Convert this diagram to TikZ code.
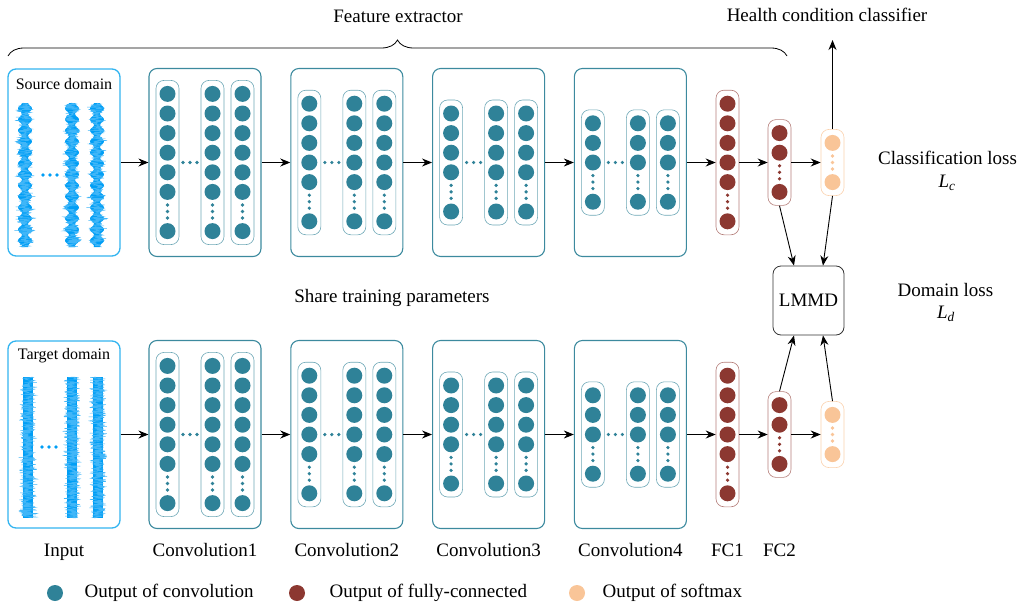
\documentclass[tikz,border=0pt]{standalone}
\usepackage{fontspec}
\setmainfont{Liberation Serif}
\usetikzlibrary{arrows.meta,positioning,decorations.pathreplacing}

\definecolor{tealc}{RGB}{47,130,152}
\definecolor{tealb}{RGB}{60,138,158}
\definecolor{redc}{RGB}{140,56,49}
\definecolor{peachc}{RGB}{249,197,152}
\definecolor{wavec}{RGB}{0,158,245}
\definecolor{inputc}{RGB}{50,180,240}

\newcommand{\colsp}{19.6}
% one column of neurons: name, x, y, number of top neurons, kind
\newcommand{\neurcol}[5]{%
  \pgfmathsetmacro{\colx}{#2}
  \pgfmathsetmacro{\colhalf}{(#4+1)*\colsp/2}
  \pgfmathsetmacro{\colht}{(#4+1)*\colsp+27}
  \node[#5col, minimum height=\colht pt] (#1) at (\colx,#3) {};
  \foreach \k in {1,...,#4}
    \node[#5n] (#1-\k) at (\colx,{#3-\colhalf+(\k-1)*\colsp}) {};
  \node[#5n] (#1-last) at (\colx,{#3+\colhalf}) {};
  \foreach \d in {-6.5,0,6.5}
    \fill[#5dot] (\colx,{#3+\colhalf-\colsp+\d}) circle (1.8pt);
}
% convolution layer: name, x, y, number of top neurons
\newcommand{\convlayer}[4]{%
  \pgfmathsetmacro{\layx}{#2}
  \node[layerbox] (#1) at (\layx,#3) {};
  \neurcol{#1-a}{\layx-37.5}{#3}{#4}{conv}
  \neurcol{#1-b}{\layx+7.5}{#3}{#4}{conv}
  \neurcol{#1-c}{\layx+37.5}{#3}{#4}{conv}
  \foreach \d in {-7,0,7}
    \fill[convdot] ({\layx-15+\d},#3) circle (1.8pt);
}
% vibration signals (x, top, bottom)
\newcommand{\srcwave}[3]{%
  \fill[wavec] plot[domain=#2:#3, samples=160, variable=\t]
    ({#1+3+4*(sin(16.36*(\t-#2)))^2}, \t)
    -- plot[domain=#3:#2, samples=160, variable=\t]
    ({#1-3-4*(sin(16.36*(\t-#2)))^2}, \t) -- cycle;
  \draw[wavec!75, line width=0.45pt] plot[domain=#2:#3, samples=450, variable=\t]
    ({#1+(4+5*(sin(16.36*(\t-#2)))^2+2.5*rnd)*rand}, \t);
}
\newcommand{\tgtwave}[3]{%
  \fill[wavec] (#1-5,#2) rectangle (#1+5,#3);
  \draw[wavec!75, line width=0.45pt] plot[domain=#2:#3, samples=450, variable=\t]
    ({#1+(6.5+3.5*rnd)*rand}, \t);
}

\begin{document}
\begin{tikzpicture}[x=1pt,y=-1pt,font=\fontsize{19}{23}\selectfont]
\tikzstyle{layerbox}=[draw=tealb, rounded corners=8pt, line width=1.1pt,
	minimum width=112pt, minimum height=188pt, inner sep=0pt]
\tikzstyle{inputbox}=[draw=inputc, rounded corners=8pt, line width=1.3pt,
	minimum width=112pt, minimum height=187pt, inner sep=0pt]
\tikzstyle{convcol}=[draw=tealb!75, rounded corners=8pt, line width=0.6pt,
	minimum width=23pt, inner sep=0pt]
\tikzstyle{fccol}=[draw=redc!65, rounded corners=8pt, line width=0.6pt,
	minimum width=23pt, inner sep=0pt]
\tikzstyle{softcol}=[draw=peachc!80, rounded corners=8pt, line width=0.6pt,
	minimum width=23pt, inner sep=0pt]
\tikzstyle{convn}=[circle, fill=tealc, minimum size=16pt, inner sep=0pt]
\tikzstyle{fcn}=[circle, fill=redc, minimum size=16pt, inner sep=0pt]
\tikzstyle{softn}=[circle, fill=peachc, minimum size=16pt, inner sep=0pt]
\tikzstyle{convdot}=[fill=tealc]
\tikzstyle{fcdot}=[fill=redc]
\tikzstyle{softdot}=[fill=peachc]
\tikzstyle{flow}=[-{Stealth[length=10pt,width=8pt]}, line width=0.9pt]
\tikzstyle{domaintext}=[font=\fontsize{16}{19}\selectfont]
\useasboundingbox (0,0) rectangle (1028,605);
\pgfmathsetseed{11}

% source branch
\node[inputbox] (sin) at (64,162.5) {};
\node[domaintext] (slab) at (64,84) {Source domain};
\srcwave{25}{103}{247}
\srcwave{72}{103}{247}
\srcwave{97}{103}{247}
\foreach \d in {-7,0,7} \fill[wavec] (50+\d,175) circle (1.9pt);
\foreach \i/\n in {1/6,2/5,3/4,4/3}{
	\convlayer{sc\i}{205+141.8*(\i-1)}{162.5}{\n}
}
\neurcol{sfc1}{727.5}{162.5}{5}{fc}
\neurcol{sfc2}{779.5}{162.5}{2}{fc}
\neurcol{ssoft}{832.5}{162.5}{1}{soft}

% target branch
\node[inputbox] (tin) at (64,434.5) {};
\node[domaintext] (tlab) at (64,356) {Target domain};
\tgtwave{28}{377}{518}
\tgtwave{72}{377}{518}
\tgtwave{98}{377}{518}
\foreach \d in {-7,0,7} \fill[wavec] (49+\d,447) circle (1.9pt);
\foreach \i/\n in {1/6,2/5,3/4,4/3}{
	\convlayer{tc\i}{205+141.8*(\i-1)}{434.5}{\n}
}
\neurcol{tfc1}{727.5}{434.5}{5}{fc}
\neurcol{tfc2}{779.5}{434.5}{2}{fc}
\neurcol{tsoft}{832.5}{434.5}{1}{soft}

% data flow
\foreach \r in {s,t} {
	\draw[flow] (\r in.east) -- (\r c1.west);
	\draw[flow] (\r c1.east) -- (\r c2.west);
	\draw[flow] (\r c2.east) -- (\r c3.west);
	\draw[flow] (\r c3.east) -- (\r c4.west);
	\draw[flow] (\r c4.east) -- (\r fc1.west);
	\draw[flow] (\r fc1.east) -- (\r fc2.west);
	\draw[flow] (\r fc2.east) -- (\r soft.west);
}

% loss
\node[draw=black!80, rounded corners=8pt, line width=0.8pt,
	minimum width=71pt, minimum height=69pt] (lmmd) at (808.5,300.5) {LMMD};
\draw[flow] (sfc2.south) -- ([xshift=-14.5pt]lmmd.north);
\draw[flow] (ssoft.south) -- ([xshift=14.5pt]lmmd.north);
\draw[flow] (tfc2.north) -- ([xshift=-14.5pt]lmmd.south);
\draw[flow] (tsoft.north) -- ([xshift=14.5pt]lmmd.south);
\coordinate (hcl) at (832.5,40);
\draw[flow] (ssoft.north) -- (hcl);

% brace and texts
\draw[decorate, decoration={brace, amplitude=16pt}, line width=0.8pt]
	(8,56) -- (787,56);
\node (fe) at (398,16) {Feature extractor};
\node (hc) at (827,15) {Health condition classifier};
\node (share) at (392,298) {Share training parameters};
\node (closs) at (947.5,158) {Classification loss};
\node (lc) at (947,183) {\textit{L}\textsubscript{\textit{c}}};
\node (dloss) at (945.5,290) {Domain loss};
\node (ld) at (946,314) {\textit{L}\textsubscript{\textit{d}}};

% layer names
\node[anchor=base] (nin) at (64,556) {Input};
\foreach \i in {1,...,4}{
	\node[anchor=base] (nc\i) at ({205+141.8*(\i-1)},556) {Convolution\i};
}
\node[anchor=base] (nfc1) at (727.5,556) {FC1};
\node[anchor=base] (nfc2) at (779.5,556) {FC2};

% legend
\node[convn] (lg1) at (55,593) {};
\node[right=18pt of lg1] (lt1) {Output of convolution};
\node[fcn] (lg2) at (297,593) {};
\node[right=21pt of lg2] (lt2) {Output of fully-connected};
\node[softn] (lg3) at (577,593) {};
\node[right=14pt of lg3] (lt3) {Output of softmax};
\end{tikzpicture}
\end{document}
